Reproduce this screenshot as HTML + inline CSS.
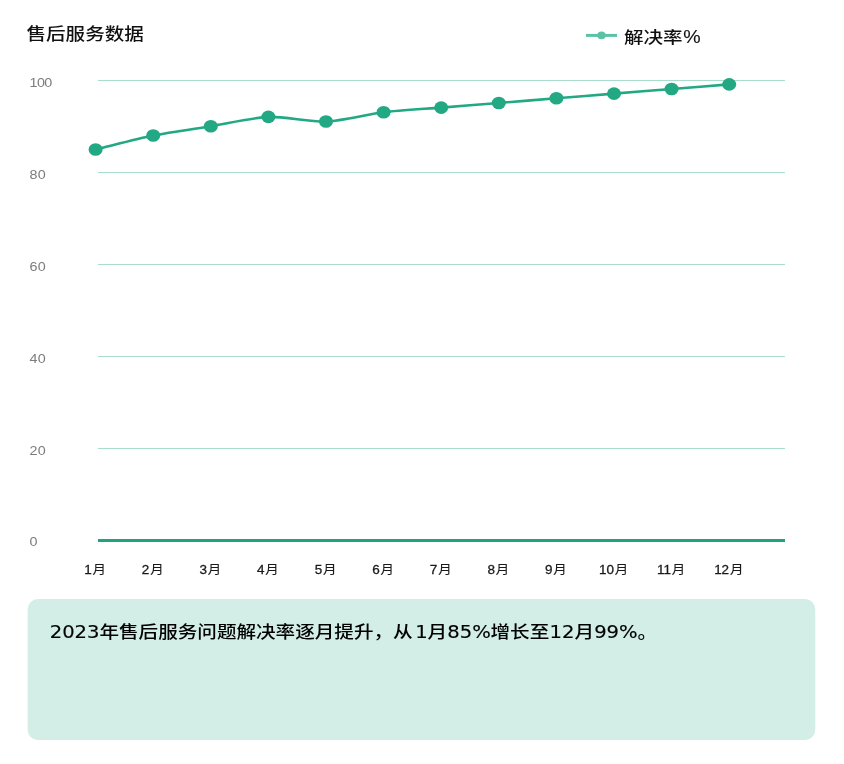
<!DOCTYPE html>
<html lang="zh"><head><meta charset="utf-8"><title>售后服务数据</title>
<style>
html,body{margin:0;padding:0;background:#fff;}
body{width:844px;height:764px;position:relative;overflow:hidden;}
#w{position:absolute;left:0;top:0;width:764px;height:764px;transform:scaleX(1.10471);transform-origin:0 0;font-family:"DejaVu Sans","Noto Sans CJK SC","WenQuanYi Zen Hei",sans-serif;}
h1{position:absolute;left:24.44px;top:21.7px;margin:0;font-size:17.7px;font-weight:normal;line-height:24px;color:#111;-webkit-text-stroke:0.15px #111;white-space:nowrap;font-family:"Liberation Sans","Noto Sans CJK SC","WenQuanYi Zen Hei",sans-serif;}
svg{position:absolute;left:0;top:0;}
.yl{font-family:"Liberation Sans","Noto Sans CJK SC",sans-serif;font-size:13px;fill:#7c7c7c;letter-spacing:0.15px;}
.xl{font-family:"Liberation Sans","Noto Sans CJK SC",sans-serif;font-size:12.2px;fill:#1a1a1a;stroke:#1a1a1a;stroke-width:0.28px;}
.lg{font-family:"Liberation Sans","Noto Sans CJK SC",sans-serif;font-size:17.7px;fill:#111;stroke:#111;stroke-width:0.12px;}
.note{position:absolute;left:25.35px;top:599px;width:712.22px;height:141px;background:#d2eee6;border-radius:9.4px/10.5px;}
.note p{margin:0;position:absolute;left:19.64px;top:19.7px;font-size:17.74px;line-height:26px;color:#000;-webkit-text-stroke:0.15px #000;white-space:nowrap;}
.c{display:inline-block;font-weight:500;-webkit-text-stroke:0;font-size:16.64px;transform:scaleX(1.066);transform-origin:0 50%;margin-right:calc(var(--n)*1.1px);}
</style></head><body><div id="w">
<h1><span class="c" style="--n:6;font-size:17px;transform:scaleX(1.041);margin-right:0">售后服务数据</span></h1>
<svg width="764" height="764" viewBox="0 0 764 764">
<line x1="88.71" x2="710.59" y1="80.5" y2="80.5" stroke="#aadccd" stroke-width="1"/><line x1="88.71" x2="710.59" y1="172.5" y2="172.5" stroke="#aadccd" stroke-width="1"/><line x1="88.71" x2="710.59" y1="264.5" y2="264.5" stroke="#aadccd" stroke-width="1"/><line x1="88.71" x2="710.59" y1="356.5" y2="356.5" stroke="#aadccd" stroke-width="1"/><line x1="88.71" x2="710.59" y1="448.5" y2="448.5" stroke="#aadccd" stroke-width="1"/>
<line x1="88.71" x2="710.59" y1="540.5" y2="540.5" stroke="#1ba47d" stroke-width="3"/>
<text x="26.79" y="86.9" class="yl" style="letter-spacing:-0.55px">100</text><text x="26.79" y="178.9" class="yl">80</text><text x="26.79" y="270.9" class="yl">60</text><text x="26.79" y="362.9" class="yl">40</text><text x="26.79" y="454.9" class="yl">20</text><text x="26.79" y="545.7" class="yl">0</text>
<text x="86.14" y="574.1" class="xl" text-anchor="middle">1<tspan dx="0.7" style="stroke-width:0.08px">月</tspan></text><text x="138.28" y="574.1" class="xl" text-anchor="middle">2<tspan dx="0.7" style="stroke-width:0.08px">月</tspan></text><text x="190.42" y="574.1" class="xl" text-anchor="middle">3<tspan dx="0.7" style="stroke-width:0.08px">月</tspan></text><text x="242.56" y="574.1" class="xl" text-anchor="middle">4<tspan dx="0.7" style="stroke-width:0.08px">月</tspan></text><text x="294.70" y="574.1" class="xl" text-anchor="middle">5<tspan dx="0.7" style="stroke-width:0.08px">月</tspan></text><text x="346.84" y="574.1" class="xl" text-anchor="middle">6<tspan dx="0.7" style="stroke-width:0.08px">月</tspan></text><text x="398.98" y="574.1" class="xl" text-anchor="middle">7<tspan dx="0.7" style="stroke-width:0.08px">月</tspan></text><text x="451.12" y="574.1" class="xl" text-anchor="middle">8<tspan dx="0.7" style="stroke-width:0.08px">月</tspan></text><text x="503.26" y="574.1" class="xl" text-anchor="middle">9<tspan dx="0.7" style="stroke-width:0.08px">月</tspan></text><text x="555.40" y="574.1" class="xl" text-anchor="middle">10<tspan dx="0.7" style="stroke-width:0.08px">月</tspan></text><text x="607.54" y="574.1" class="xl" text-anchor="middle">11<tspan dx="0.7" style="stroke-width:0.08px">月</tspan></text><text x="659.68" y="574.1" class="xl" text-anchor="middle">12<tspan dx="0.7" style="stroke-width:0.08px">月</tspan></text>
<path d="M86.54,149.44 C99.57,145.95 125.52,138.42 138.68,135.49 C151.59,132.61 177.78,128.51 190.82,126.19 C203.85,123.87 229.85,117.48 242.96,116.89 C255.92,116.31 282.14,122.12 295.10,121.54 C308.21,120.96 334.13,114.00 347.24,112.24 C360.20,110.51 386.35,108.76 399.38,107.59 C412.42,106.43 438.49,104.11 451.52,102.94 C464.56,101.78 490.63,99.46 503.66,98.30 C516.70,97.13 542.77,94.81 555.80,93.65 C568.84,92.48 594.91,90.16 607.94,89.00 C620.98,87.84 647.05,85.51 660.08,84.35" fill="none" stroke="#22a883" stroke-width="2.6" stroke-linejoin="round" stroke-linecap="round"/>
<ellipse cx="86.54" cy="149.44" rx="6.35" ry="6.3" fill="#22a883"/><ellipse cx="138.68" cy="135.49" rx="6.35" ry="6.3" fill="#22a883"/><ellipse cx="190.82" cy="126.19" rx="6.35" ry="6.3" fill="#22a883"/><ellipse cx="242.96" cy="116.89" rx="6.35" ry="6.3" fill="#22a883"/><ellipse cx="295.10" cy="121.54" rx="6.35" ry="6.3" fill="#22a883"/><ellipse cx="347.24" cy="112.24" rx="6.35" ry="6.3" fill="#22a883"/><ellipse cx="399.38" cy="107.59" rx="6.35" ry="6.3" fill="#22a883"/><ellipse cx="451.52" cy="102.94" rx="6.35" ry="6.3" fill="#22a883"/><ellipse cx="503.66" cy="98.30" rx="6.35" ry="6.3" fill="#22a883"/><ellipse cx="555.80" cy="93.65" rx="6.35" ry="6.3" fill="#22a883"/><ellipse cx="607.94" cy="89.00" rx="6.35" ry="6.3" fill="#22a883"/><ellipse cx="660.08" cy="84.35" rx="6.35" ry="6.3" fill="#22a883"/>
<line x1="530.46" x2="558.52" y1="35.4" y2="35.4" stroke="#5cc2a6" stroke-width="3"/>
<circle cx="544.49" cy="35.4" r="3.8" fill="#5cc2a6"/>
<text transform="translate(564.85,42.7) scale(1.079,1)" class="lg" style="font-size:16.4px;font-weight:500;stroke:none">解决率</text><text x="618.45" y="43.1" class="lg">%</text>
</svg>
<div class="note"><p>2023<span class="c" style="--n:18">年售后服务问题解决率逐月提升，从</span>1<span class="c" style="--n:1">月</span>85%<span class="c" style="--n:3">增长至</span>12<span class="c" style="--n:1">月</span>99%<span class="c" style="--n:1">。</span></p></div>
</div></body></html>
